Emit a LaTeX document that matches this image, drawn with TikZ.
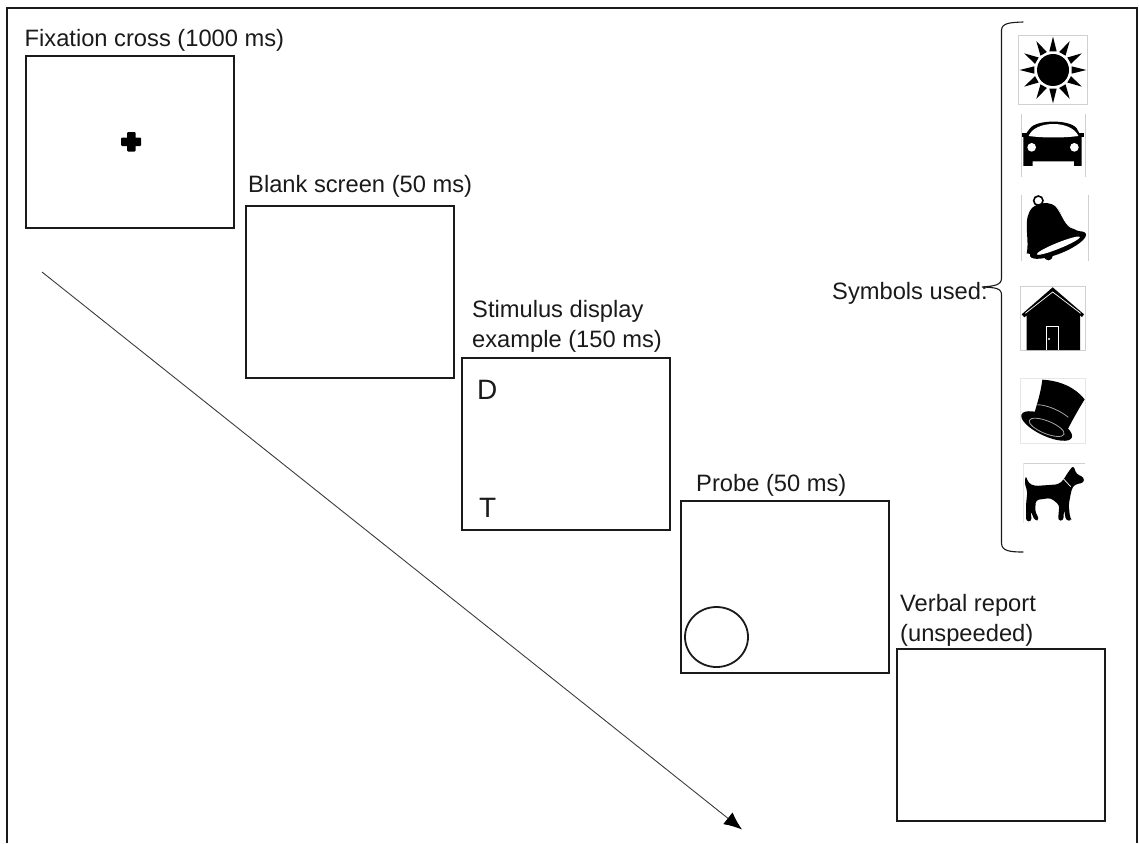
\documentclass[tikz,border=0pt]{standalone}
\usepackage{fontspec}
\setmainfont{Liberation Sans}
\usetikzlibrary{arrows.meta,shapes.geometric}
\definecolor{ink}{HTML}{1A1A1A}
\definecolor{iconframe}{HTML}{D0D0D0}
\tikzset{
  scr/.style={draw=ink,line width=2.2pt,minimum width=208pt,minimum height=172pt,inner sep=0pt,anchor=north west},
  lab/.style={anchor=base west,inner sep=0pt,text=ink,font=\fontsize{23.7pt}{30pt}\selectfont},
  big/.style={anchor=base west,inner sep=0pt,text=ink,font=\fontsize{28pt}{30pt}\selectfont},
  frameline/.style={draw=ink,line width=2.4pt},
  bracket/.style={draw=ink,line width=1.1pt,line cap=round},
  timeline/.style={draw=ink!85,line width=0.9pt,-{Latex[length=18pt,width=15pt,color=black]}},
  iconedge/.style={draw=iconframe,line width=0.8pt},
  icon/.style={fill=black},
  iconline/.style={draw=white,line width=0.7pt}
}
\begin{document}
\begin{tikzpicture}[x=1pt,y=-1pt]
\useasboundingbox (0,0) rectangle (1139,843);
\draw[frameline] (7,843) -- (7,8) -- (1137,8) -- (1137,843);
% screens
\node[scr] (s1) at (24.5,55) {};
\node[scr] (s2) at (244.5,204.5) {};
\node[scr] (s3) at (460.5,356.5) {};
\node[scr] (s4) at (679.5,500) {};
\node[scr] (s5) at (895.5,647.5) {};
% labels
\node[lab] (l1) at (24.5,46) {Fixation cross (1000 ms)};
\node[lab] (l2) at (248,192) {Blank screen (50 ms)};
\node[lab] (l3a) at (472,317) {Stimulus display};
\node[lab] (l3b) at (472,347) {example (150 ms)};
\node[lab] (l4) at (696,491) {Probe (50 ms)};
\node[lab] (l5a) at (900,611) {Verbal report};
\node[lab] (l5b) at (900,641) {(unspeeded)};
\node[lab] (l6) at (832,299) {Symbols used:};
\node[big] (d) at (477,399) {D};
\node[big] (t) at (479,517) {T};
% cross
\fill[black,rounded corners=1pt] (127,132) rectangle (135.5,151.5);
\fill[black,rounded corners=1pt] (121,137.5) rectangle (141,146);
% probe circle
\node[draw=ink,line width=1.8pt,ellipse,minimum width=63pt,minimum height=60pt,inner sep=0pt] (c) at (716.5,637) {};
% timeline
\coordinate (a0) at (42,272);
\coordinate (a1) at (742,829.5);
\draw[timeline] (a0) -- (a1);
% bracket
\draw[bracket] (1023,22) .. controls (1010,22.5) and (1002,23) .. (1001.5,30) -- (1001.5,278)
  .. controls (1001.5,285) and (995,286) .. (982,287)
  .. controls (995,287.5) and (1001.5,288) .. (1001.5,295) -- (1001.5,543)
  .. controls (1001.5,551) and (1010,552) .. (1023,552);
% sun
\begin{scope}[shift={(980,0)},scale=1/3]
  \draw[iconedge] (115,106) rectangle (322,313);
  \fill[icon] (219,210) circle (48);
  \foreach \a in {0,30,...,330}{
    \fill[icon,shift={(219,210)},rotate=\a] (56,-11) -- (100,0) -- (56,11) -- cycle;
  }
  % car
  \draw[iconedge] (124,342) -- (124,530);
  \draw[iconedge] (317,342) -- (317,530);
  \fill[icon] (130,412) -- (150,385) .. controls (170,358) and (270,358) .. (290,385) -- (305,412)
     -- (305,498) -- (282,498) -- (282,484) -- (158,484) -- (158,498) -- (130,498) -- cycle;
  \fill[icon] (125,398) rectangle (148,412);
  \fill[icon] (290,398) rectangle (313,412);
  \fill[white] (146,408) .. controls (165,360) and (275,360) .. (295,408)
     .. controls (250,414) and (190,414) .. (146,408) -- cycle;
  \fill[white] (155,442) circle (13);
  \fill[white] (283,442) circle (13);
  % bell
  \draw[iconedge] (124,585) -- (124,782);
  \draw[iconedge] (325,585) -- (325,782);
  \draw[black,line width=1.6pt] (175,602) circle (14);
  \fill[icon] (158,622) .. controls (185,602) and (225,605) .. (240,635)
     .. controls (252,665) and (262,682) .. (300,695)
     -- (200,770) -- (140,760)
     .. controls (150,715) and (125,655) .. (158,622) -- cycle;
  \fill[icon] (205,768) circle (13);
  \fill[icon,shift={(234,735)},rotate=22] (0,0) ellipse [x radius=90,y radius=26];
  \fill[white,shift={(235,737)},rotate=22] (0,0) ellipse [x radius=70,y radius=9];
  \draw[white,line width=0.7pt] (225,615) .. controls (250,645) and (255,680) .. (280,685);
\end{scope}
\begin{scope}[shift={(980,270)},scale=1/3]
  % house
  \draw[iconedge] (122,48) rectangle (316,240);
  \fill[icon] (218,52) -- (312,133) -- (306,141) -- (300,136) -- (300,240) -- (140,240) -- (140,136) -- (133,142) -- (125,133) -- cycle;
  \draw[iconline] (136,130) -- (218,66) -- (302,130);
  \draw[iconline] (200,240) -- (200,168) -- (236,168) -- (236,240);
  \fill[white] (207,207) circle (3.5);
  % hat
  \draw[draw=iconframe!50,line width=0.6pt] (122,325) rectangle (316,519);
  \fill[icon] (187,329) .. controls (240,332) and (285,352) .. (314,388)
     .. controls (300,410) and (280,445) .. (262,480) -- (160,440)
     .. controls (170,405) and (182,370) .. (187,329) -- cycle;
  \fill[icon,shift={(200,468)},rotate=-25] (0,0) ellipse [x radius=83,y radius=30];
  \draw[draw=white!65!black,line width=0.8pt,shift={(200,472)},rotate=-22] (0,0) ellipse [x radius=56,y radius=19];
  \draw[draw=white!65!black,line width=0.8pt] (172,404) .. controls (205,405) and (245,425) .. (265,442);
  % dog
  \draw[iconedge] (130,580) -- (316,580);
  \draw[draw=iconframe!50,line width=0.6pt] (130,580) -- (130,760);
  \fill[icon,rounded corners=3pt] (137,616) -- (146,640) -- (165,648) -- (235,643) -- (250,630) -- (262,610) -- (280,586)
     -- (289,612) -- (312,622) -- (312,638) -- (286,643) -- (277,652) -- (272,672) -- (266,705) -- (270,742) -- (276,752) -- (258,752)
     -- (252,718) -- (250,752) -- (234,752) -- (238,705) -- (212,684) -- (168,690) -- (165,722) -- (178,750) -- (164,752)
     -- (152,722) -- (155,754) -- (138,754) -- (138,705) -- (142,665) -- (134,640) -- cycle;
  \draw[iconline] (250,626) -- (272,650);
\end{scope}
\end{tikzpicture}
\end{document}
